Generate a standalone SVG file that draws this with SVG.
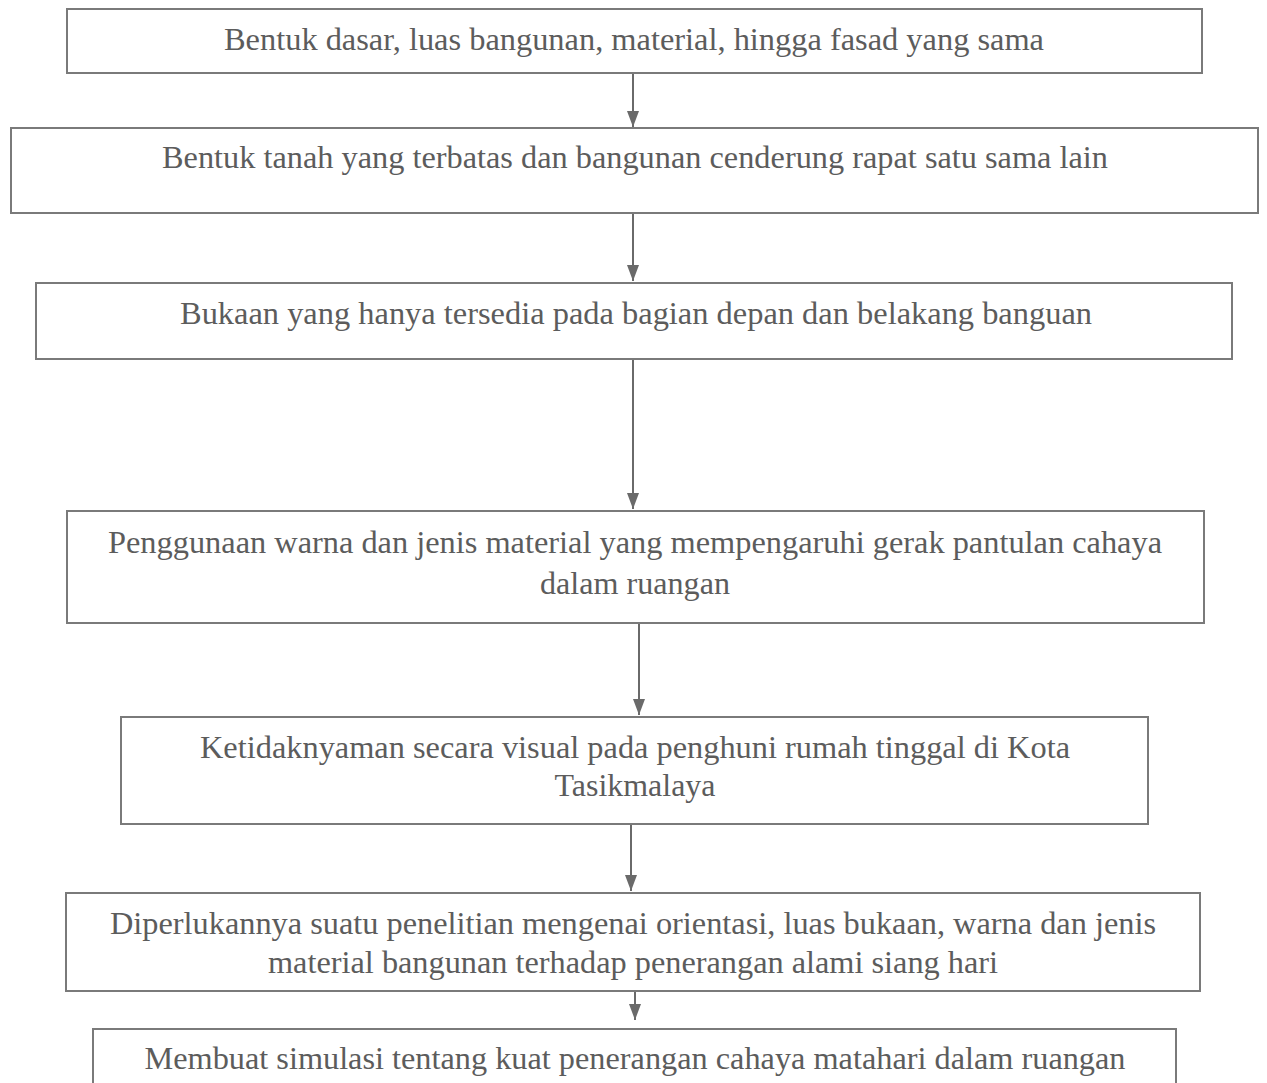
<svg xmlns="http://www.w3.org/2000/svg" width="1267" height="1083" viewBox="0 0 1267 1083">
<style>
.box{fill:#fff;stroke:#7a7a7a;stroke-width:2}
.t{font-family:"Liberation Serif","Times New Roman",serif;font-size:32px;fill:#5c5c5c;text-anchor:middle}
.c{stroke:#6a6a6a;stroke-width:2;fill:none}
</style>
<defs>
<marker id="ah" markerWidth="16" markerHeight="12" refX="16" refY="6" orient="auto" markerUnits="userSpaceOnUse" viewBox="0 0 16 12">
<path d="M0,0 L16,6 L0,12 Z" fill="#6a6a6a"/>
</marker>
</defs>
<rect width="1267" height="1083" fill="#fff"/>
<g id="connectors">
<line class="c" x1="633" y1="73" x2="633" y2="127" marker-end="url(#ah)"/>
<line class="c" x1="633" y1="213" x2="633" y2="281" marker-end="url(#ah)"/>
<line class="c" x1="633" y1="359" x2="633" y2="509" marker-end="url(#ah)"/>
<line class="c" x1="639" y1="623" x2="639" y2="715" marker-end="url(#ah)"/>
<line class="c" x1="631" y1="824" x2="631" y2="891" marker-end="url(#ah)"/>
<line class="c" x1="635" y1="991" x2="635" y2="1020" marker-end="url(#ah)"/>
</g>
<g id="n1">
<rect class="box" x="67" y="9" width="1135" height="64"/>
<text class="t" x="634" y="50" textLength="820" lengthAdjust="spacingAndGlyphs">Bentuk dasar, luas bangunan, material, hingga fasad yang sama</text>
</g>
<g id="n2">
<rect class="box" x="11" y="128" width="1247" height="85"/>
<text class="t" x="635" y="168" textLength="946" lengthAdjust="spacingAndGlyphs">Bentuk tanah yang terbatas dan bangunan cenderung rapat satu sama lain</text>
</g>
<g id="n3">
<rect class="box" x="36" y="283" width="1196" height="76"/>
<text class="t" x="636" y="324" textLength="912" lengthAdjust="spacingAndGlyphs">Bukaan yang hanya tersedia pada bagian depan dan belakang banguan</text>
</g>
<g id="n4">
<rect class="box" x="67" y="511" width="1137" height="112"/>
<text class="t" x="635" y="553" textLength="1054" lengthAdjust="spacingAndGlyphs">Penggunaan warna dan jenis material yang mempengaruhi gerak pantulan cahaya</text>
<text class="t" x="635" y="594" textLength="190" lengthAdjust="spacingAndGlyphs">dalam ruangan</text>
</g>
<g id="n5">
<rect class="box" x="121" y="717" width="1027" height="107"/>
<text class="t" x="635" y="758" textLength="870" lengthAdjust="spacingAndGlyphs">Ketidaknyaman secara visual pada penghuni rumah tinggal di Kota</text>
<text class="t" x="635" y="796" textLength="161" lengthAdjust="spacingAndGlyphs">Tasikmalaya</text>
</g>
<g id="n6">
<rect class="box" x="66" y="893" width="1134" height="98"/>
<text class="t" x="633" y="934" textLength="1046" lengthAdjust="spacingAndGlyphs">Diperlukannya suatu penelitian mengenai orientasi, luas bukaan, warna dan jenis</text>
<text class="t" x="633" y="973" textLength="730" lengthAdjust="spacingAndGlyphs">material bangunan terhadap penerangan alami siang hari</text>
</g>
<g id="n7">
<rect class="box" x="93" y="1029" width="1083" height="70"/>
<text class="t" x="635" y="1069" textLength="981" lengthAdjust="spacingAndGlyphs">Membuat simulasi tentang kuat penerangan cahaya matahari dalam ruangan</text>
</g>
</svg>
